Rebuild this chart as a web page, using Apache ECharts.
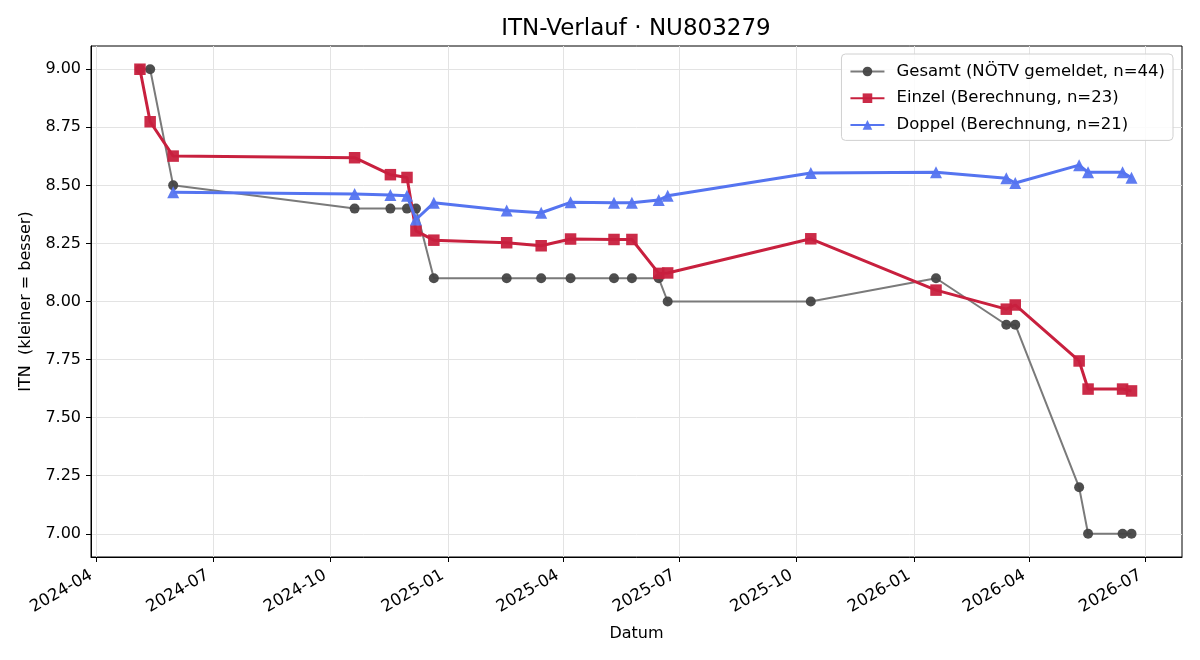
<!DOCTYPE html>
<html>
<head>
<meta charset="utf-8">
<script src="https://cdn.jsdelivr.net/npm/echarts@6/dist/echarts.min.js"></script>
<style>
html,body{margin:0;padding:0;background:#fff;}
#chart{width:1200px;height:660px;}
</style>
</head>
<body>
<div id="chart"></div>
<script>
// ---- data ----
const gesamtDates = ['2024-05-05','2024-05-13','2024-05-31','2024-10-20','2024-11-17','2024-11-30','2024-12-07','2024-12-21','2025-02-16','2025-03-15','2025-04-07','2025-05-11','2025-05-25','2025-06-15','2025-06-22','2025-10-12','2026-01-18','2026-03-14','2026-03-21','2026-05-10','2026-05-17','2026-06-13','2026-06-20'];
const gesamtValues = [9.00,9.00,8.50,8.40,8.40,8.40,8.40,8.10,8.10,8.10,8.10,8.10,8.10,8.10,8.00,8.00,8.10,7.90,7.90,7.20,7.00,7.00,7.00];

const einzelDates = ['2024-05-05','2024-05-13','2024-05-31','2024-10-20','2024-11-17','2024-11-30','2024-12-07','2024-12-21','2025-02-16','2025-03-15','2025-04-07','2025-05-11','2025-05-25','2025-06-15','2025-06-22','2025-10-12','2026-01-18','2026-03-14','2026-03-21','2026-05-10','2026-05-17','2026-06-13','2026-06-20'];
const einzelValues = [9.00,8.774,8.626,8.619,8.546,8.534,8.304,8.264,8.253,8.240,8.269,8.267,8.267,8.121,8.123,8.270,8.049,7.967,7.985,7.744,7.623,7.623,7.615];

const doppelDates = ['2024-05-31','2024-10-20','2024-11-17','2024-11-30','2024-12-07','2024-12-21','2025-02-16','2025-03-15','2025-04-07','2025-05-11','2025-05-25','2025-06-15','2025-06-22','2025-10-12','2026-01-18','2026-03-14','2026-03-21','2026-05-10','2026-05-17','2026-06-13','2026-06-20'];
const doppelValues = [8.47,8.463,8.458,8.455,8.353,8.425,8.392,8.382,8.427,8.425,8.425,8.437,8.455,8.553,8.556,8.531,8.51,8.587,8.556,8.556,8.533];

const xTickLabels = ['2024-04','2024-07','2024-10','2025-01','2025-04','2025-07','2025-10','2026-01','2026-04','2026-07'];
const yTickValues = [7.00,7.25,7.50,7.75,8.00,8.25,8.50,8.75,9.00];

const seriesNames = ['Gesamt (NÖTV gemeldet, n=44)','Einzel (Berechnung, n=23)','Doppel (Berechnung, n=21)'];
const titleText = 'ITN-Verlauf · NU803279';
const xName = 'Datum';
const yName = 'ITN  (kleiner = besser)';

// ---- helpers ----
function ts(s){ const p = s.split('-').map(Number); return Date.UTC(p[0], p[1]-1, p[2] || 1); }
function pairs(d, v){ return d.map((x,i)=>[ts(x), v[i]]); }
const DAY = 86400000;
const xTicks = xTickLabels.map(ts);
const xMin = ts('2024-04-01') - 4.3*DAY;
const xMax = ts('2026-07-01') + 28.5*DAY;
function fmtMonth(v){ const d = new Date(v); return d.getUTCFullYear() + '-' + String(d.getUTCMonth()+1).padStart(2,'0'); }

const FONT = 'DejaVu Sans';
const chart = echarts.init(document.getElementById('chart'), null, {renderer:'canvas'});
chart.setOption({
  animation: false,
  backgroundColor: '#fff',
  textStyle: {fontFamily: FONT},
  title: {
    text: titleText, left: 631, top: 13, textAlign: 'center',
    textStyle: {fontFamily: FONT, fontSize: 23, fontWeight: 'normal', color: '#000'}
  },
  legend: {
    orient: 'vertical', right: 27, top: 54,
    itemWidth: 34, itemHeight: 12, itemGap: 9.7,
    padding: [9, 8, 7, 8],
    backgroundColor: 'rgba(255,255,255,0.85)',
    borderColor: '#d0d0d0', borderWidth: 1, borderRadius: 4,
    textStyle: {fontFamily: FONT, fontSize: 16.5, color: '#000', padding: [0,0,0,7]},
    data: seriesNames
  },
  grid: {left: 91, right: 18, top: 46, bottom: 103, show: true, borderColor: '#000', borderWidth: 1, containLabel: false},
  xAxis: {
    type: 'value', min: xMin, max: xMax,
    name: xName, nameLocation: 'middle', nameGap: 69,
    nameTextStyle: {fontFamily: FONT, fontSize: 16, color: '#000'},
    axisLine: {show: true, onZero: false, lineStyle: {color: '#000', width: 1}},
    axisTick: {show: true, length: 5, lineStyle: {color: '#000'}, customValues: xTicks},
    axisLabel: {customValues: xTicks, rotate: 30, margin: 14, padding: [0, 6, 0, 0], fontFamily: FONT, fontSize: 16.5, color: '#000', formatter: fmtMonth},
    splitLine: {show: true, lineStyle: {color: '#e3e3e3', width: 1}}
  },
  yAxis: {
    type: 'value', min: 6.9, max: 9.1,
    name: yName, nameLocation: 'middle', nameGap: 57, nameRotate: 90,
    nameTextStyle: {fontFamily: FONT, fontSize: 16, color: '#000'},
    axisLine: {show: true, onZero: false, lineStyle: {color: '#000', width: 1}},
    axisTick: {show: true, length: 5, lineStyle: {color: '#000'}, customValues: yTickValues},
    axisLabel: {customValues: yTickValues, margin: 10, fontFamily: FONT, fontSize: 16, color: '#000', formatter: v => v.toFixed(2)},
    splitLine: {show: true, lineStyle: {color: '#e3e3e3', width: 1}}
  },
  series: [
    {
      name: seriesNames[0], type: 'line', data: pairs(gesamtDates, gesamtValues),
      symbol: 'circle', symbolSize: 10, z: 2,
      lineStyle: {color: '#7a7a7a', width: 2},
      itemStyle: {color: '#444444', opacity: 0.95}
    },
    {
      name: seriesNames[1], type: 'line', data: pairs(einzelDates, einzelValues),
      symbol: 'rect', symbolSize: 11.5, z: 3,
      lineStyle: {color: '#c8203e', width: 3},
      itemStyle: {color: '#c8203e', opacity: 0.95}
    },
    {
      name: seriesNames[2], type: 'line', data: pairs(doppelDates, doppelValues),
      symbol: 'triangle', symbolSize: 12, z: 4,
      lineStyle: {color: '#5574f0', width: 3},
      itemStyle: {color: '#5574f0', opacity: 0.95}
    }
  ]
});
</script>
</body>
</html>
